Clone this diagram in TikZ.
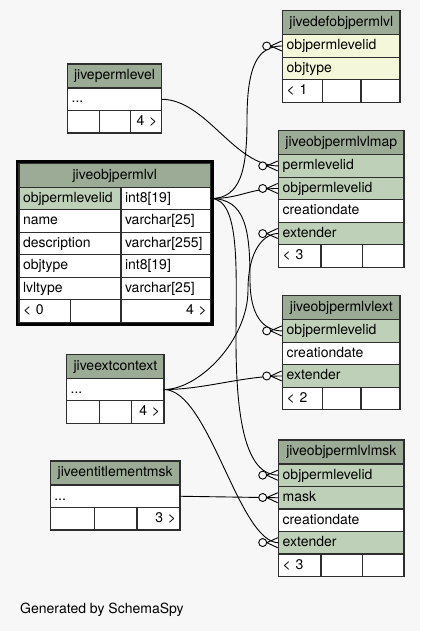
\documentclass[tikz,border=0pt]{standalone}
\usepackage{fontspec}
\setmainfont{TeX Gyre Heros}
\usetikzlibrary{positioning,decorations.markings}

\definecolor{bgc}{HTML}{F7F7F7}
\definecolor{headc}{HTML}{9BAB96}
\definecolor{keyc}{HTML}{BED1B8}
\definecolor{implc}{HTML}{F4F7DA}
\definecolor{linec}{HTML}{2E2E2E}

\tikzset{
	cell/.style = {draw=linec, line width=1.2pt, fill=white, outer sep=0pt,
		minimum height=22.5pt, inner xsep=4pt, inner ysep=0pt,
		text height=10.5pt, text depth=3pt, align=left,
		font=\fontsize{14}{16}\selectfont},
	head/.style = {cell, fill=headc, minimum height=24pt, align=center},
	key/.style = {cell, fill=keyc},
	impl/.style = {cell, fill=implc},
	zeromany/.style = {postaction={decorate}, decoration={markings,
		mark=at position -0.2pt with {
			\draw[fill=bgc] (-15.8pt,0pt) circle (4pt);
			\draw (-11.8pt,0pt) -- (-0.8pt,5pt) (-11.8pt,0pt) -- (-0.8pt,-5pt);}}},
	conn/.style = {draw=black, line width=0.9pt, zeromany}
}

\begin{document}
\begin{tikzpicture}
	[x=1pt, y=-1pt]
\useasboundingbox[fill=bgc] (0,0) rectangle (420,631);

% jivedefobjpermlvl
\node[head,text width=109.3pt,anchor=north west](def_h) at (282.7,10.7){jivedefobjpermlvl};
\node[impl,text width=109.3pt](def_oid)[below = 0pt of def_h]{objpermlevelid};
\node[impl,text width=109.3pt](def_ty)[below = 0pt of def_oid]{objtype};
\node[cell,text width=32pt](def_f1)[below right = 0pt of def_ty.south west]{< 1};
\node[cell,text width=30.3pt](def_f2)[right = 0pt of def_f1]{};
\node[cell,text width=31pt](def_f3)[right = 0pt of def_f2]{};

% jivepermlevel
\node[head,text width=85.6pt,anchor=north west](perm_h) at (67.7,64){jivepermlevel};
\node[cell,text width=85.6pt](perm_r)[below = 0pt of perm_h]{...};
\node[cell,text width=23.6pt](perm_f1)[below right = 0pt of perm_r.south west]{};
\node[cell,text width=23.4pt](perm_f2)[right = 0pt of perm_f1]{};
\node[cell,text width=22.6pt,align=right](perm_f3)[right = 0pt of perm_f2]{4 >};

% jiveobjpermlvlmap
\node[head,text width=117.3pt,anchor=north west](map_h) at (278.7,130.7){jiveobjpermlvlmap};
\node[key,text width=117.3pt](map_pid)[below = 0pt of map_h]{permlevelid};
\node[key,text width=117.3pt](map_oid)[below = 0pt of map_pid]{objpermlevelid};
\node[cell,text width=117.3pt](map_cd)[below = 0pt of map_oid]{creationdate};
\node[key,text width=117.3pt](map_ext)[below = 0pt of map_cd]{extender};
\node[cell,text width=34.3pt](map_f1)[below right = 0pt of map_ext.south west]{< 3};
\node[cell,text width=33.7pt](map_f2)[right = 0pt of map_f1]{};
\node[cell,text width=33.3pt](map_f3)[right = 0pt of map_f2]{};

% jiveobjpermlvl
\node[head,text width=183.7pt,anchor=north west](lvl_h) at (19,163.3){jiveobjpermlvl};
\node[key,text width=94pt](lvl_id)[below right = 0pt of lvl_h.south west]{objpermlevelid};
\node[cell,text width=81.7pt](lvl_idt)[right = 0pt of lvl_id]{int8[19]};
\node[cell,text width=94pt](lvl_nm)[below = 0pt of lvl_id]{name};
\node[cell,text width=81.7pt](lvl_nmt)[right = 0pt of lvl_nm]{varchar[25]};
\node[cell,text width=94pt](lvl_ds)[below = 0pt of lvl_nm]{description};
\node[cell,text width=81.7pt](lvl_dst)[right = 0pt of lvl_ds]{varchar[255]};
\node[cell,text width=94pt](lvl_ty)[below = 0pt of lvl_ds]{objtype};
\node[cell,text width=81.7pt](lvl_tyt)[right = 0pt of lvl_ty]{int8[19]};
\node[cell,text width=94pt](lvl_lt)[below = 0pt of lvl_ty]{lvltype};
\node[cell,text width=81.7pt](lvl_ltt)[right = 0pt of lvl_lt]{varchar[25]};
\node[cell,text width=43.7pt](lvl_f1)[below right = 0pt of lvl_lt.south west]{< 0};
\node[cell,text width=42.3pt](lvl_f2)[right = 0pt of lvl_f1]{};
\node[cell,text width=81.7pt,align=right](lvl_f3)[right = 0pt of lvl_f2]{4 >};
\draw[line width=2.5pt] ([shift={(-2pt,2pt)}]lvl_h.north west) rectangle ([shift={(2pt,-2pt)}]lvl_f3.south east);

% jiveobjpermlvlext
\node[head,text width=109.3pt,anchor=north west](ext_h) at (282.7,295.7){jiveobjpermlvlext};
\node[key,text width=109.3pt](ext_oid)[below = 0pt of ext_h]{objpermlevelid};
\node[cell,text width=109.3pt](ext_cd)[below = 0pt of ext_oid]{creationdate};
\node[key,text width=109.3pt](ext_ext)[below = 0pt of ext_cd]{extender};
\node[cell,text width=31.6pt](ext_f1)[below right = 0pt of ext_ext.south west]{< 2};
\node[cell,text width=30.7pt](ext_f2)[right = 0pt of ext_f1]{};
\node[cell,text width=31pt](ext_f3)[right = 0pt of ext_f2]{};

% jiveextcontext
\node[head,text width=89.3pt,anchor=north west](ctx_h) at (66.7,354.3){jiveextcontext};
\node[cell,text width=89.3pt](ctx_r)[below = 0pt of ctx_h]{...};
\node[cell,text width=24.6pt](ctx_f1)[below right = 0pt of ctx_r.south west]{};
\node[cell,text width=24pt](ctx_f2)[right = 0pt of ctx_f1]{};
\node[cell,text width=24.7pt,align=right](ctx_f3)[right = 0pt of ctx_f2]{4 >};

% jiveobjpermlvlmsk
\node[head,text width=117.3pt,anchor=north west](msk_h) at (278.7,440){jiveobjpermlvlmsk};
\node[key,text width=117.3pt](msk_oid)[below = 0pt of msk_h]{objpermlevelid};
\node[key,text width=117.3pt](msk_mask)[below = 0pt of msk_oid]{mask};
\node[cell,text width=117.3pt](msk_cd)[below = 0pt of msk_mask]{creationdate};
\node[key,text width=117.3pt](msk_ext)[below = 0pt of msk_cd]{extender};
\node[cell,text width=34.3pt](msk_f1)[below right = 0pt of msk_ext.south west]{< 3};
\node[cell,text width=33.7pt](msk_f2)[right = 0pt of msk_f1]{};
\node[cell,text width=33.3pt](msk_f3)[right = 0pt of msk_f2]{};

% jiveentitlementmsk
\node[head,text width=121.7pt,anchor=north west](ent_h) at (50.3,461){jiveentitlementmsk};
\node[cell,text width=121.7pt](ent_r)[below = 0pt of ent_h]{...};
\node[cell,text width=36.4pt](ent_f1)[below right = 0pt of ent_r.south west]{};
\node[cell,text width=34.3pt](ent_f2)[right = 0pt of ent_f1]{};
\node[cell,text width=35pt,align=right](ent_f3)[right = 0pt of ent_f2]{3 >};

\node[anchor=west,font=\fontsize{14}{16}\selectfont](gen) at (16.7,610){Generated by SchemaSpy};

% relationships
\draw[conn] (lvl_idt.east) .. controls +(30,0) and +(0,50) .. (247,120) .. controls +(0,-55) and +(-25,0) .. (def_oid.west);
\draw[conn] (lvl_idt.east) .. controls +(30,0) and +(-30,0) .. (map_oid.west);
\draw[conn] (lvl_idt.east) .. controls +(35,0) and +(0,-50) .. (250,280) .. controls +(0,35) and +(-20,0) .. (ext_oid.west);
\draw[conn] (lvl_idt.east) .. controls +(30,0) and +(0,-70) .. (236,340) .. controls +(0,90) and +(-30,0) .. (msk_oid.west);
\draw[conn] (perm_r.east) .. controls +(45,0) and +(-45,0) .. (map_pid.west);
\draw[conn] (ctx_r.east) .. controls +(35,0) and +(0,50) .. (248,290) .. controls +(0,-40) and +(-15,0) .. (map_ext.west);
\draw[conn] (ctx_r.east) .. controls +(40,0) and +(-40,0) .. (ext_ext.west);
\draw[conn] (ctx_r.east) .. controls +(45,0) and +(-40,0) .. (msk_ext.west);
\draw[conn] (ent_r.east) -- (msk_mask.west);

\end{tikzpicture}
\end{document}
